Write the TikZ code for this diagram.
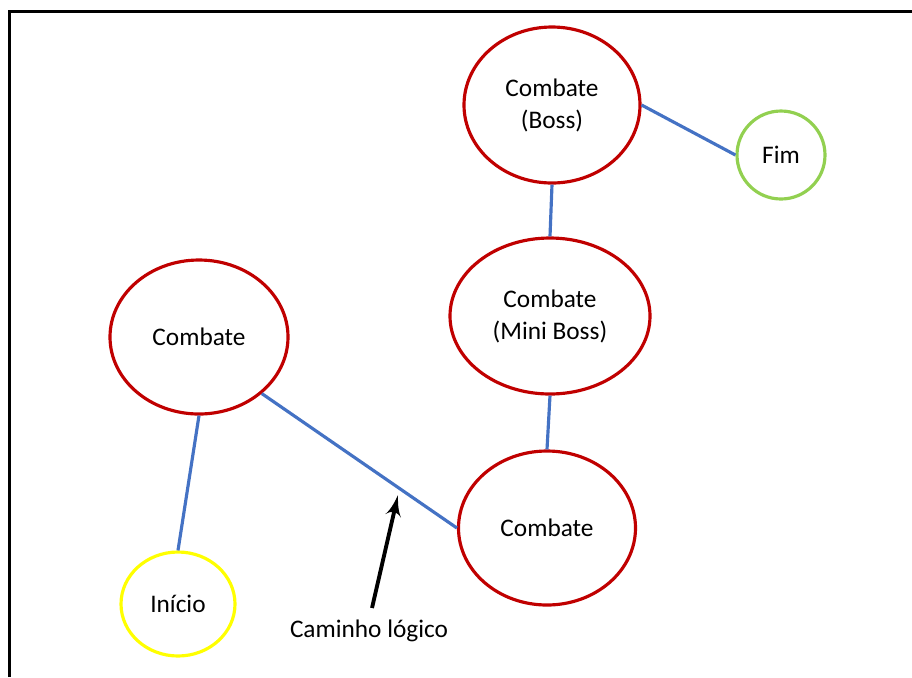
\documentclass[tikz,border=0pt]{standalone}
\usepackage{fontspec}
\setmainfont{Carlito}
\usepackage{tikz}
\usetikzlibrary{shapes,arrows}
\definecolor{bossred}{HTML}{C00000}
\definecolor{pathblue}{HTML}{4472C4}
\definecolor{startyellow}{HTML}{FFFF00}
\definecolor{endgreen}{HTML}{92D050}
\tikzstyle{room} = [ellipse, draw=bossred, line width=0.9pt, inner sep=0pt,
                    align=center, font=\fontsize{7.2}{9.1}\selectfont]
\tikzstyle{ends} = [ellipse, line width=0.9pt, inner sep=0pt,
                    font=\fontsize{7.2}{9.1}\selectfont]
\tikzstyle{link} = [draw, pathblue, line width=0.9pt]
\tikzstyle{pointer} = [draw, black, line width=1.1pt,-latex']

\begin{document}
\begin{tikzpicture}
\useasboundingbox (0,0) rectangle (9.12,6.77);
\draw [line width=0.9pt] (0.095,0) -- (0.095,6.655) -- (9.12,6.655);

\node [room, minimum width=1.76cm, minimum height=1.56cm] (boss) at (5.52,5.72) {Combate\\(Boss)};
\node [ends, draw=endgreen, minimum width=0.88cm, minimum height=0.88cm] (fim) at (7.81,5.22) {Fim};
\node [room, minimum width=2.00cm, minimum height=1.56cm] (mini) at (5.50,3.61) {Combate\\(Mini Boss)};
\node [room, minimum width=1.78cm, minimum height=1.54cm] (left) at (1.99,3.40) {Combate};
\node [room, minimum width=1.77cm, minimum height=1.54cm] (bottom) at (5.47,1.49) {Combate};
\node [ends, draw=startyellow, minimum width=1.14cm, minimum height=1.04cm] (inicio) at (1.78,0.73) {Início};

\path [link] (boss.east) -- (fim.west);
\path [link] (boss.south) -- (mini.north);
\path [link] (mini.south) -- (bottom.north);
\path [link] (left.-42) -- (bottom.west);
\path [link] (left.south) -- (inicio.north);

\node [font=\fontsize{7.2}{9.1}\selectfont] (caminho) at (3.69,0.46) {Caminho lógico};
\coordinate (tail) at (3.72,0.69);
\coordinate (tip) at (3.98,1.82);
\path [pointer] (tail) -- (tip);

\end{tikzpicture}
\end{document}
